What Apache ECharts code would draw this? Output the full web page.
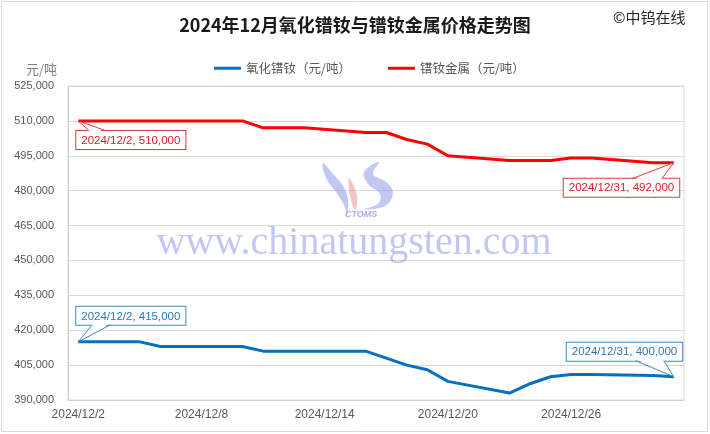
<!DOCTYPE html>
<html>
<head>
<meta charset="utf-8">
<script src="https://cdn.jsdelivr.net/npm/echarts@6/dist/echarts.min.js"></script>
<style>
html,body{margin:0;padding:0;background:#fff;}
#c{width:710px;height:434px;}
</style>
</head>
<body>
<div id="c"></div>
<script>
// ---- data ----
const dates = ['2024/12/2','2024/12/3','2024/12/4','2024/12/5','2024/12/6','2024/12/7','2024/12/8',
  '2024/12/9','2024/12/10','2024/12/11','2024/12/12','2024/12/13','2024/12/14','2024/12/15',
  '2024/12/16','2024/12/17','2024/12/18','2024/12/19','2024/12/20','2024/12/21','2024/12/22',
  '2024/12/23','2024/12/24','2024/12/25','2024/12/26','2024/12/27','2024/12/28','2024/12/29',
  '2024/12/30','2024/12/31'];
const seriesNames = ['氧化镨钕（元/吨）', '镨钕金属（元/吨）'];
// null = weekend, no quote
const oxidePrice = [415000,415000,415000,415000,413000,null,null,
  413000,413000,411000,411000,411000,null,null,
  411000,408000,405000,403000,398000,null,null,
  393000,397000,400000,401000,401000,null,null,
  400500,400000];
const metalPrice = [510000,510000,510000,510000,510000,null,null,
  510000,510000,507000,507000,507000,null,null,
  505000,505000,502000,500000,495000,null,null,
  493000,493000,493000,494000,494000,null,null,
  492000,492000];
const yMin = 390000, yMax = 525000, yStep = 15000;

// ---- styles ----
const colors = ['#0070C0', '#FF0000'];
const calloutText = ['#2E75B6', '#D0202A'];
const calloutBorder = ['#3F86C6', '#E03A3A'];
// callout box / wedge offsets relative to the data point (first, last)
const callouts = [
  [{dx:-2, dy:-35, a:[14,-17], b:[32,-17]}, {dx:-107, dy:-34, a:[-38,-16], b:[-10,-16]}],
  [{dx:-2, dy:10, a:[11,10], b:[28,10]}, {dx:-110, dy:16, a:[-42,16], b:[-12,16]}]
];

function fmt(v){ return v.toLocaleString('en-US'); }
function firstIndex(arr){ for (let i = 0; i < arr.length; i++) if (arr[i]!=null) return i; return -1; }
function lastIndex(arr){ for (let i = arr.length-1; i>=0; i--) if (arr[i]!=null) return i; return -1; }

const allSeries = [oxidePrice, metalPrice];
// [categoryIndex, value, seriesIndex, calloutKind]
const calloutData = [];
allSeries.forEach((vals, si) => {
  const f = firstIndex(vals), l = lastIndex(vals);
  calloutData.push([f, vals[f], si, 0]);
  calloutData.push([l, vals[l], si, 1]);
});

const chart = echarts.init(document.getElementById('c'), null, {renderer: 'canvas'});

const lineSeries = allSeries.map((vals, si) => ({
  name: seriesNames[si],
  type: 'line',
  data: vals,
  connectNulls: true,
  symbol: 'none',
  lineStyle: {color: colors[si], width: 3},
  itemStyle: {color: colors[si]},
  emphasis: {disabled: true},
  z: 3 + si
}));

const calloutSeries = {
  type: 'custom',
  coordinateSystem: 'cartesian2d',
  data: calloutData,
  encode: {x: 0, y: 1},
  silent: true,
  z: 10,
  clip: false,
  renderItem: function (params, api) {
    const idx = api.value(0), v = api.value(1), si = api.value(2), k = api.value(3);
    const p = api.coord([idx, v]);
    const c = callouts[si][k];
    const dir = c.a[1] < 0 ? -1 : 1;
    const A = [p[0] + c.a[0], p[1] + c.a[1]];
    const B = [p[0] + c.b[0], p[1] + c.b[1]];
    return {
      type: 'group',
      children: [
        {
          type: 'text',
          x: p[0] + c.dx,
          y: p[1] + c.dy,
          style: {
            text: dates[idx] + ', ' + fmt(v),
            fill: calloutText[si],
            fontSize: 11.5,
            fontFamily: 'Liberation Sans, Arial, sans-serif',
            lineHeight: 13,
            align: 'left',
            verticalAlign: 'top',
            backgroundColor: '#fff',
            borderColor: calloutBorder[si],
            borderWidth: 1,
            padding: [3, 5, 2, 5]
          }
        },
        {
          type: 'polygon',
          shape: {points: [[A[0] + 0.5, A[1] + dir * 1.5], p, [B[0] - 0.5, B[1] + dir * 1.5]]},
          style: {fill: '#fff', stroke: null}
        },
        {
          type: 'polyline',
          shape: {points: [A, p, B]},
          style: {stroke: calloutBorder[si], lineWidth: 1, fill: null}
        }
      ]
    };
  }
};

const option = {
  animation: false,
  backgroundColor: '#fff',
  title: {
    text: '2024年12月氧化镨钕与镨钕金属价格走势图',
    left: 'center',
    top: 11,
    textStyle: {fontSize: 18, fontWeight: 'bold', color: '#1a1a1a', fontFamily: 'Noto Sans CJK SC, sans-serif'}
  },
  legend: {
    data: seriesNames,
    left: 209,
    top: 57,
    icon: 'rect',
    itemWidth: 27,
    itemHeight: 3,
    itemGap: 37,
    textStyle: {fontSize: 12.5, color: '#595959', fontFamily: 'Noto Sans CJK SC, sans-serif'}
  },
  grid: {
    left: 68, right: 26, top: 86, bottom: 34,
    show: true, borderColor: '#d9d9d9', borderWidth: 1
  },
  xAxis: {
    type: 'category',
    data: dates,
    boundaryGap: true,
    axisLine: {show: true, lineStyle: {color: '#d0d0d0'}},
    axisTick: {show: false},
    axisLabel: {interval: 5, color: '#595959', fontSize: 12, margin: 9, fontFamily: 'Liberation Sans, Arial, sans-serif'},
    splitLine: {show: false}
  },
  yAxis: {
    type: 'value',
    min: yMin, max: yMax, interval: yStep,
    name: '元/吨',
    nameLocation: 'end',
    nameGap: 17,
    nameTextStyle: {color: '#7f7f7f', fontSize: 13, align: 'right', verticalAlign: 'middle', padding: [0, 11, 0, 0], fontFamily: 'Noto Sans CJK SC, sans-serif'},
    axisLine: {show: true, lineStyle: {color: '#d0d0d0'}},
    axisTick: {show: false},
    axisLabel: {color: '#595959', fontSize: 11, margin: 14, formatter: v => fmt(v), fontFamily: 'Liberation Sans, Arial, sans-serif'},
    splitLine: {show: true, lineStyle: {color: '#d9d9d9', width: 1}}
  },
  graphic: [
    {type: 'rect', shape: {x: 1.5, y: 1.5, width: 706, height: 430}, style: {fill: 'none', stroke: '#d9d9d9', lineWidth: 1}, z: -10, silent: true},
    {type: 'text', x: 613, y: 10, style: {text: '©中钨在线', fontSize: 15, fill: '#262626', fontFamily: 'Noto Sans CJK SC, sans-serif'}, silent: true},
    // watermark logo
    {type: 'polygon', shape: {points: [[323,163],[326,178],[336,192],[344,205],[347,214],[348,200],[343,186],[333,174]], smooth: 0.4}, style: {fill: 'rgba(120,130,230,0.45)'}, z: 1, silent: true},
    {type: 'polygon', shape: {points: [[349,178],[350,195],[355,210],[357,196]], smooth: 0.4}, style: {fill: 'rgba(240,120,120,0.45)'}, z: 1, silent: true},
    {type: 'polygon', shape: {points: [[379,162],[364,172],[368,184],[380,194],[378,204],[364,209],[385,206],[393,193],[386,182],[373,174]], smooth: 0.4}, style: {fill: 'rgba(120,130,230,0.45)'}, z: 1, silent: true},
    {type: 'text', x: 345, y: 210, style: {text: 'CTOMS', fontSize: 9, fontWeight: 'bold', fontStyle: 'italic', fill: 'rgba(110,120,225,0.6)', fontFamily: 'Liberation Sans, Arial, sans-serif'}, z: 1, silent: true},
    {type: 'text', x: 354, y: 243, style: {text: 'www.chinatungsten.com', fontSize: 40, fill: 'rgba(110,120,230,0.42)', align: 'center', verticalAlign: 'middle', fontFamily: 'Liberation Serif, DejaVu Serif, serif'}, z: 1, silent: true}
  ],
  series: lineSeries.concat([calloutSeries])
};
chart.setOption(option);
</script>
</body>
</html>
